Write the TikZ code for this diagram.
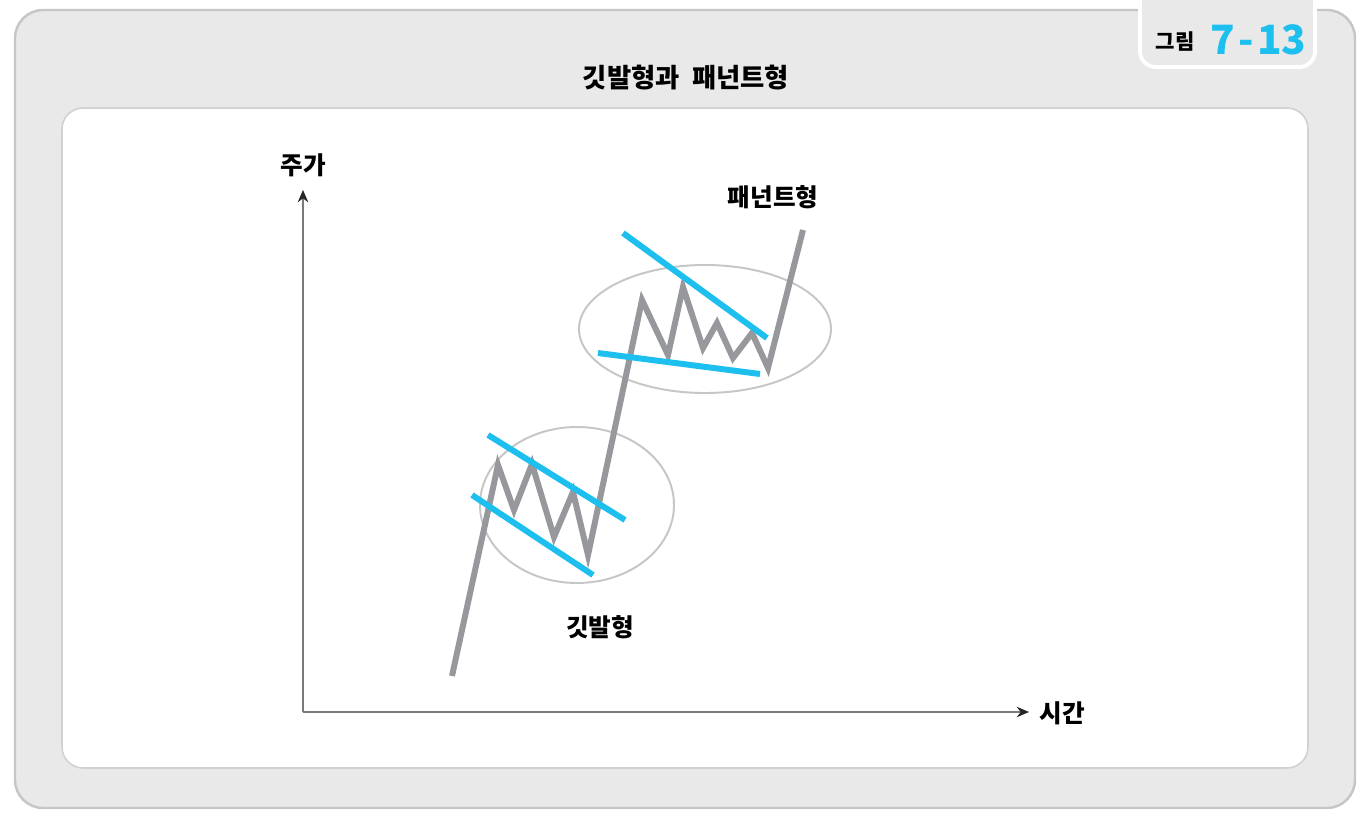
\documentclass[tikz,border=0pt]{standalone}
\usepackage{fontspec}
\setmainfont{Noto Sans CJK KR}
\usetikzlibrary{arrows.meta}
\definecolor{framegray}{HTML}{E9E9E9}
\definecolor{edgegray}{HTML}{C6C6C6}
\definecolor{pricegray}{HTML}{97989C}
\definecolor{trendcyan}{HTML}{1DBFEF}
\definecolor{axisgray}{HTML}{7A7A7A}
\tikzset{
  lbl/.style={font=\bfseries\fontsize{14}{16}\selectfont, text=black},
  price/.style={draw=pricegray, line width=3.4pt, line join=miter},
  trend/.style={draw=trendcyan, line width=3.4pt},
  zone/.style={draw=edgegray, line width=1.1pt},
  axis/.style={draw=axisgray, line width=0.8pt, -{Stealth[length=7pt,width=6pt,black!85]}}
}
\begin{document}
\begin{tikzpicture}[x=0.02cm,y=-0.02cm]
\useasboundingbox (0,0) rectangle (1370,818);
% frame
\draw[fill=framegray, draw=edgegray, line width=1.4pt, rounded corners=16] (15,10) rectangle (1355,808);
\draw[fill=white, draw=edgegray!80, line width=0.9pt, rounded corners=12] (62,108) rectangle (1308,768);
% badge
\draw[fill=framegray, draw=white, line width=2.2pt, rounded corners=9] (1140,-6) -- (1140,67) -- (1315,67) -- (1315,-6);
\node[font=\bfseries\fontsize{12}{14}\selectfont] (fig) at (1175,42) {그림};
\node[font=\bfseries\fontsize{23}{26}\selectfont, text=trendcyan, anchor=west] (num) at (1204,40) {7\kern2pt-\kern2pt13};
\node[lbl, font=\bfseries\fontsize{15}{17}\selectfont] (title) at (686,78) {깃발형과\ \ 패넌트형};
% axes
\coordinate (o) at (303,712);
\coordinate (ytop) at (303,190);
\coordinate (xend) at (1029,712);
\draw[axis] (o) -- (ytop);
\draw[axis] (o) -- (xend);
\node[lbl] (ylab) at (303,165) {주가};
\node[lbl] (xlab) at (1062,713) {시간};
% circled zones
\draw[zone] (577,505) ellipse (97 and 78);
\draw[zone] (705,329) ellipse (126 and 64);
% price
\draw[price] (452,676) -- (498,465) -- (514,510) -- (532,464) -- (554,537) -- (573,492) -- (588,555)
  -- (642,300) -- (668,355) -- (683,287) -- (703,348) -- (717,323) -- (733,358) -- (752,333)
  -- (768,368) -- (803,230);
% trend lines
\draw[trend] (488,435) -- (625,520);
\draw[trend] (472,495) -- (593,575);
\draw[trend] (623,233) -- (767,338);
\draw[trend] (598,353) -- (760,374);
\node[lbl] (flag) at (600,627) {깃발형};
\node[lbl] (pen) at (773,197) {패넌트형};
\end{tikzpicture}
\end{document}
